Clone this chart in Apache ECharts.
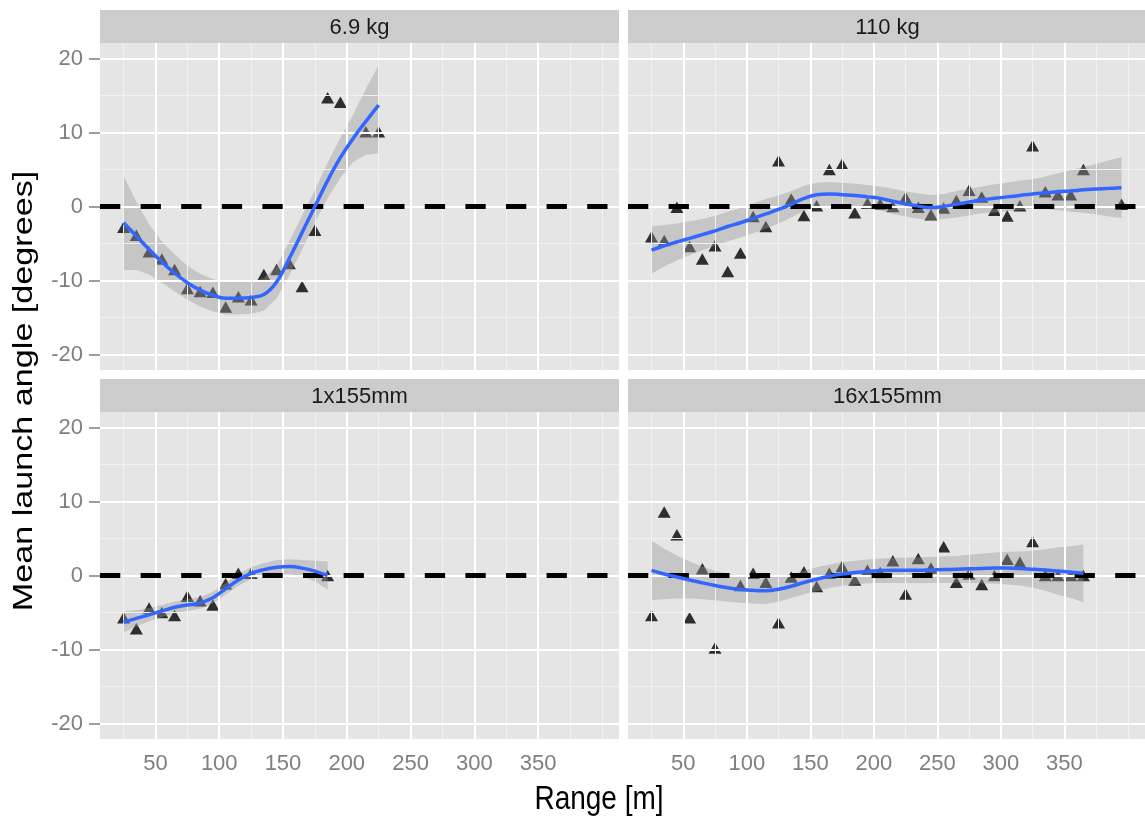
<!DOCTYPE html>
<html>
<head>
<meta charset="utf-8">
<script src="https://cdn.jsdelivr.net/npm/echarts@6/dist/echarts.min.js"></script>
<style>
  html, body { margin: 0; padding: 0; background: #ffffff; }
  #chart { width: 1145px; height: 819px; }
</style>
</head>
<body>
<div id="chart"></div>
<script>
// ---- facet titles and tick labels ----
const panelTitles = ['6.9 kg', '110 kg', '1x155mm', '16x155mm'];
const xTicks = [50, 100, 150, 200, 250, 300, 350];
const xMinor = [25, 75, 125, 175, 225, 275, 325, 375, 400];
const yTicks = [-20, -10, 0, 10, 20];
const yMinor = [-15, -5, 5, 15];
const xRange = [6.5, 413.5];
const yRange = [-22.1, 22.1];

// ---- observed mean launch angles (degrees) by range bin (m) ----
const kg69X = [25, 35, 45, 55, 65, 75, 85, 95, 105, 115, 125, 135, 145, 155, 165, 175, 185, 195, 215, 225];
const kg69Y = [-2.8, -3.9, -6.1, -7.1, -8.5, -11.1, -11.5, -11.6, -13.6, -12.2, -12.6, -9.2, -8.5, -7.7, -10.8, -3.2, 14.7, 14.1, 10.1, 10.1];

const kg110X = [25, 35, 45, 55, 65, 75, 85, 95, 105, 115, 125, 135, 145, 155, 165, 175, 185, 195, 205, 215, 225, 235, 245, 255, 265, 275, 285, 295, 305, 315, 325, 335, 345, 355, 365, 395];
const kg110Y = [-4.1, -4.6, -0.1, -5.4, -7.1, -5.3, -8.8, -6.3, -1.35, -2.7, 6.2, 1.0, -1.2, 0.1, 5.0, 5.7, -0.85, 0.45, 0.35, 0.0, 1.2, -0.1, -1.1, -0.2, 0.8, 2.2, 1.3, -0.5, -1.3, 0.1, 8.2, 2.0, 1.6, 1.6, 5.0, 0.3];

const mm1X = [25, 35, 45, 55, 65, 75, 85, 95, 105, 115, 125, 185];
const mm1Y = [-5.7, -7.2, -4.4, -5.0, -5.4, -2.8, -3.4, -4.0, -1.1, 0.3, 0.3, 0.0];

const mm16X = [25, 35, 45, 55, 65, 75, 95, 105, 115, 125, 135, 145, 155, 165, 175, 185, 195, 205, 215, 225, 235, 245, 255, 265, 275, 285, 295, 305, 315, 325, 335, 345, 355, 365];
const mm16Y = [-5.4, 8.6, 5.5, -5.7, 0.9, -9.8, -1.35, 0.3, -0.9, -6.4, -0.2, 0.5, -1.5, 0.3, 1.2, -0.6, 0.7, 0.4, 2.0, -2.5, 2.3, 1.0, 3.9, -0.9, 0.2, -1.2, 0.0, 2.2, 1.8, 4.6, 0.0, 0.0, 0.0, 0.0];

// ---- loess fits with 95% confidence band ----
const fit69X  = [25, 35, 45, 55, 65, 75, 85, 95, 105, 115, 125, 135, 145, 155, 165, 175, 185, 195, 205, 215, 225];
const fit69Y  = [-2.2, -4.0, -5.8, -7.5, -9.0, -10.3, -11.3, -12.0, -12.4, -12.4, -12.3, -11.9, -10.2, -7.0, -3.5, 0.0, 3.5, 6.6, 9.2, 11.5, 13.7];
const fit69Lo = [-8.6, -8.6, -9.2, -10.3, -11.5, -12.6, -13.5, -14.2, -14.6, -14.6, -14.5, -14.1, -12.4, -9.3, -5.8, -2.2, 1.1, 3.9, 6.0, 7.0, 7.2];
const fit69Hi = [4.2, 0.6, -2.4, -4.7, -6.5, -8.0, -9.1, -9.8, -10.2, -10.2, -10.1, -9.7, -8.0, -4.7, -1.2, 2.2, 5.9, 9.3, 12.4, 15.9, 19.1];

const fit110X  = [25, 35, 45, 55, 65, 75, 85, 95, 105, 115, 125, 135, 145, 155, 165, 175, 185, 195, 205, 215, 225, 235, 245, 255, 265, 275, 285, 295, 305, 315, 325, 335, 345, 355, 365, 375, 385, 395];
const fit110Y  = [-5.9, -5.3, -4.8, -4.3, -3.8, -3.3, -2.7, -2.2, -1.6, -1.0, -0.4, 0.3, 1.1, 1.6, 1.7, 1.6, 1.5, 1.3, 1.1, 0.7, 0.35, 0.05, -0.15, 0.0, 0.3, 0.6, 0.9, 1.1, 1.3, 1.5, 1.7, 1.85, 2.0, 2.1, 2.25, 2.35, 2.45, 2.55];
const fit110Lo = [-9.1, -8.1, -7.3, -6.6, -5.9, -5.3, -4.7, -4.2, -3.6, -3.0, -2.3, -1.5, -0.6, 0.0, 0.1, 0.0, -0.1, -0.3, -0.5, -1.0, -1.35, -1.65, -1.85, -1.7, -1.5, -1.2, -0.9, -0.8, -0.6, -0.5, -0.3, -0.35, -0.5, -0.7, -0.85, -1.05, -1.35, -1.55];
const fit110Hi = [-2.7, -2.5, -2.3, -2.0, -1.7, -1.3, -0.7, -0.2, 0.4, 1.0, 1.5, 2.1, 2.8, 3.2, 3.3, 3.2, 3.1, 2.9, 2.7, 2.4, 2.05, 1.75, 1.55, 1.7, 2.1, 2.4, 2.7, 3.0, 3.2, 3.5, 3.7, 4.05, 4.5, 4.9, 5.35, 5.75, 6.25, 6.65];

const fit1X  = [25, 35, 45, 55, 65, 75, 85, 95, 105, 115, 125, 135, 145, 155, 165, 175, 185];
const fit1Y  = [-6.3, -5.8, -5.3, -4.8, -4.3, -4.0, -3.7, -3.0, -1.8, -0.6, 0.3, 0.8, 1.1, 1.2, 1.0, 0.6, 0.0];
const fit1Lo = [-7.7, -6.9, -6.2, -5.6, -5.1, -4.8, -4.5, -3.8, -2.6, -1.4, -0.5, -0.1, 0.1, 0.2, -0.1, -0.8, -1.9];
const fit1Hi = [-4.9, -4.7, -4.4, -4.0, -3.5, -3.2, -2.9, -2.2, -1.0, 0.2, 1.1, 1.7, 2.1, 2.2, 2.1, 2.0, 1.9];

const fit16X  = [25, 35, 45, 55, 65, 75, 85, 95, 105, 115, 125, 135, 145, 155, 165, 175, 185, 195, 205, 215, 225, 235, 245, 255, 265, 275, 285, 295, 305, 315, 325, 335, 345, 355, 365];
const fit16Y  = [0.7, 0.2, -0.2, -0.6, -1.0, -1.35, -1.65, -1.9, -2.0, -2.05, -1.85, -1.45, -0.95, -0.5, -0.1, 0.2, 0.4, 0.55, 0.65, 0.7, 0.7, 0.7, 0.75, 0.8, 0.85, 0.9, 0.95, 1.0, 1.0, 0.95, 0.85, 0.75, 0.6, 0.45, 0.3];
const fit16Lo = [-3.3, -3.2, -3.1, -3.1, -3.2, -3.35, -3.55, -3.7, -3.8, -3.85, -3.55, -3.05, -2.55, -2.1, -1.7, -1.4, -1.2, -1.05, -1.0, -1.0, -1.0, -1.05, -1.0, -1.0, -0.95, -1.0, -1.05, -1.1, -1.2, -1.35, -1.65, -2.05, -2.6, -3.05, -3.6];
const fit16Hi = [4.7, 3.6, 2.7, 1.9, 1.2, 0.65, 0.25, -0.1, -0.2, -0.25, -0.15, 0.15, 0.65, 1.1, 1.5, 1.8, 2.0, 2.15, 2.3, 2.4, 2.4, 2.45, 2.5, 2.6, 2.65, 2.8, 2.95, 3.1, 3.2, 3.25, 3.35, 3.55, 3.8, 3.95, 4.2];

// ---- layout ----
const font = '"Liberation Sans", Arial, Helvetica, sans-serif';
const gridBoxes = [
  { left: 100, top: 43, width: 519, height: 327 },
  { left: 628, top: 43, width: 519, height: 327 },
  { left: 100, top: 412, width: 519, height: 327 },
  { left: 628, top: 412, width: 519, height: 327 }
];
const stripH = 33;
const trianglePath = 'path://M0,-1L0.866,0.5L-0.866,0.5Z';
const panels = [
  { px: kg69X,  py: kg69Y,  fx: fit69X,  fy: fit69Y,  lo: fit69Lo,  hi: fit69Hi },
  { px: kg110X, py: kg110Y, fx: fit110X, fy: fit110Y, lo: fit110Lo, hi: fit110Hi },
  { px: mm1X,   py: mm1Y,   fx: fit1X,   fy: fit1Y,   lo: fit1Lo,   hi: fit1Hi },
  { px: mm16X,  py: mm16Y,  fx: fit16X,  fy: fit16Y,  lo: fit16Lo,  hi: fit16Hi }
];

const grids = gridBoxes.map(b => ({
  left: b.left, top: b.top, width: b.width, height: b.height,
  show: true, backgroundColor: '#e5e5e5', borderWidth: 0, containLabel: false
}));

const xAxes = gridBoxes.map((b, i) => {
  const bottomRow = i >= 2;
  return {
    type: 'value', gridIndex: i, min: xRange[0], max: xRange[1],
    axisLine: { show: false },
    splitLine: { show: false },
    axisTick: { show: bottomRow, customValues: xTicks, length: 10, lineStyle: { color: '#7f7f7f', width: 1.5 } },
    axisLabel: { show: bottomRow, customValues: xTicks, margin: 14, color: '#7f7f7f', fontSize: 22, fontFamily: font }
  };
});

const yAxes = gridBoxes.map((b, i) => {
  const leftCol = i % 2 === 0;
  return {
    type: 'value', gridIndex: i, min: yRange[0], max: yRange[1],
    axisLine: { show: false },
    splitLine: { show: false },
    axisTick: { show: leftCol, customValues: yTicks, length: 11, lineStyle: { color: '#7f7f7f', width: 1.5 } },
    axisLabel: { show: leftCol, customValues: yTicks, margin: 17, color: '#7f7f7f', fontSize: 22, fontFamily: font }
  };
});

const series = [];
panels.forEach((p, i) => {
  // background grid: minor then major lines
  const gridLines = [];
  xMinor.forEach(v => gridLines.push({ xAxis: v, lineStyle: { color: '#f2f2f2', width: 1, type: 'solid' } }));
  yMinor.forEach(v => gridLines.push({ yAxis: v, lineStyle: { color: '#f2f2f2', width: 1, type: 'solid' } }));
  xTicks.forEach(v => gridLines.push({ xAxis: v, lineStyle: { color: '#ffffff', width: 2, type: 'solid' } }));
  yTicks.forEach(v => gridLines.push({ yAxis: v, lineStyle: { color: '#ffffff', width: 2, type: 'solid' } }));
  series.push({
    type: 'line', xAxisIndex: i, yAxisIndex: i, data: [], z: 1, silent: true,
    markLine: { symbol: 'none', silent: true, animation: false, label: { show: false }, data: gridLines }
  });
  // zero reference
  series.push({
    type: 'line', xAxisIndex: i, yAxisIndex: i, data: [], z: 2, silent: true,
    markLine: {
      symbol: 'none', silent: true, animation: false, label: { show: false },
      data: [{ yAxis: 0 }],
      lineStyle: { color: '#000000', width: 5, type: [20.3, 20.3] }
    }
  });
  // observations
  series.push({
    type: 'scatter', xAxisIndex: i, yAxisIndex: i, z: 3, silent: true,
    symbol: trianglePath, symbolSize: [13, 11.5],
    itemStyle: { color: '#000000', borderWidth: 0 },
    data: p.px.map((x, k) => [x, p.py[k]])
  });
  // confidence band
  series.push({
    type: 'custom', xAxisIndex: i, yAxisIndex: i, z: 4, silent: true,
    data: p.fx.map((x, k) => [x, p.lo[k], p.hi[k]]),
    encode: { x: 0, y: [1, 2] },
    renderItem: (params, api) => {
      if (params.dataIndex !== 0) return null;
      const upper = p.fx.map((x, k) => api.coord([x, p.hi[k]]));
      const lower = p.fx.map((x, k) => api.coord([x, p.lo[k]])).reverse();
      return {
        type: 'polygon',
        shape: { points: upper.concat(lower) },
        style: { fill: 'rgba(153,153,153,0.4)', stroke: null }
      };
    }
  });
  // loess fit
  series.push({
    type: 'line', xAxisIndex: i, yAxisIndex: i, z: 5, silent: true,
    smooth: 0.4, showSymbol: false,
    lineStyle: { color: '#3366ff', width: 3.5 },
    data: p.fx.map((x, k) => [x, p.fy[k]])
  });
});

const graphics = [];
gridBoxes.forEach((b, i) => {
  graphics.push({
    type: 'rect', shape: { x: b.left, y: b.top - stripH, width: b.width, height: stripH },
    style: { fill: '#cccccc' }, z: 10
  });
  graphics.push({
    type: 'text', x: b.left + b.width / 2, y: b.top - stripH / 2 + 1, z: 11,
    style: { text: panelTitles[i], font: '22px ' + font, fill: '#1a1a1a', textAlign: 'center', textVerticalAlign: 'middle' }
  });
});
graphics.push({
  type: 'text', x: 599, y: 800, z: 11, scaleY: 1.2,
  style: { text: 'Range [m]', font: '28px ' + font, fill: '#000000', textAlign: 'center', textVerticalAlign: 'middle' }
});
graphics.push({
  type: 'text', x: 24, y: 391, rotation: Math.PI / 2, scaleX: 1.22, z: 11,
  style: { text: 'Mean launch angle [degrees]', font: '28px ' + font, fill: '#000000', textAlign: 'center', textVerticalAlign: 'middle' }
});

const chart = echarts.init(document.getElementById('chart'), null, { renderer: 'canvas' });
chart.setOption({
  animation: false,
  backgroundColor: '#ffffff',
  grid: grids,
  xAxis: xAxes,
  yAxis: yAxes,
  series: series,
  graphic: graphics
});
</script>
</body>
</html>
